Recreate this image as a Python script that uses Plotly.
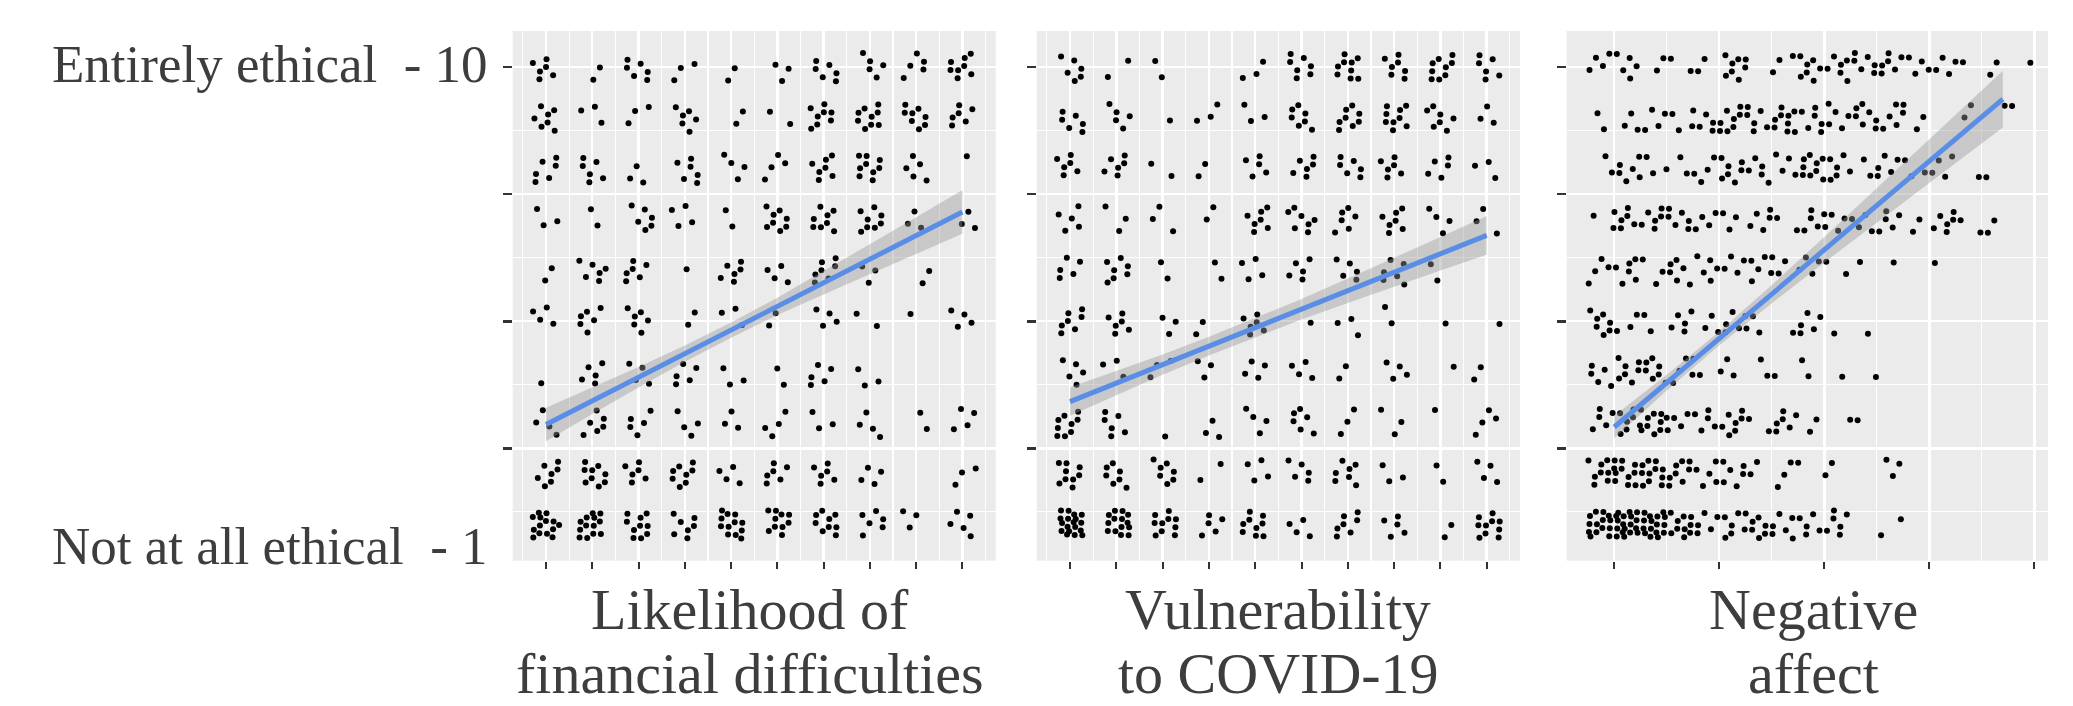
import numpy as np
import plotly.graph_objects as go

# ---------------- data ----------------
LEVELS = [10, 9, 8, 7, 6, 5, 4, 3, 2, 1]          # ethicality rating (rows)
SCALE10_X = [1, 2, 3, 4, 5, 6, 7, 8, 9, 10]        # 10-point predictor scale

# counts of respondents per (rating row, predictor value)
FIN_COUNTS = [
    [6, 2, 6, 3, 2, 3, 6, 5, 5, 8],
    [7, 3, 3, 6, 2, 2, 8, 9, 8, 6],
    [6, 6, 3, 6, 4, 4, 7, 9, 5, 1],
    [3, 2, 6, 4, 2, 8, 8, 8, 3, 3],
    [2, 6, 6, 1, 6, 4, 7, 3, 2, 0],
    [4, 6, 6, 2, 3, 2, 4, 2, 1, 4],
    [1, 5, 4, 5, 3, 2, 5, 3, 0, 0],
    [4, 6, 5, 4, 3, 4, 3, 4, 2, 4],
    [7, 9, 6, 8, 4, 6, 6, 4, 0, 3],
    [14, 13, 10, 7, 12, 10, 9, 6, 3, 5],
]
COV_COUNTS = [
    [6, 2, 2, 0, 3, 7, 9, 7, 9, 6],
    [6, 5, 1, 3, 3, 7, 8, 9, 7, 3],
    [6, 6, 2, 2, 5, 6, 6, 6, 5, 3],
    [5, 3, 3, 2, 7, 7, 6, 7, 4, 3],
    [5, 7, 2, 2, 4, 5, 5, 6, 2, 0],
    [7, 6, 3, 2, 6, 1, 3, 2, 1, 1],
    [5, 3, 3, 3, 4, 4, 2, 4, 1, 2],
    [9, 6, 1, 3, 4, 6, 3, 3, 1, 4],
    [9, 7, 7, 2, 4, 5, 7, 3, 2, 4],
    [18, 14, 10, 5, 9, 4, 7, 5, 2, 10],
]
# negative affect: counts per 0.25-wide bin (bin centres below)
NEG_BIN_CENTERS = [0.875, 1.125, 1.375, 1.625, 1.875, 2.125, 2.375, 2.625, 2.875,
                   3.125, 3.375, 3.625, 3.875, 4.125, 4.375, 4.625, 4.875]
NEG_BIN_WIDTH = 0.25
NEG_COUNTS = [
    [4, 5, 2, 2, 2, 7, 1, 3, 7, 6, 6, 6, 4, 4, 1, 2, 1],
    [2, 3, 4, 3, 5, 8, 6, 9, 6, 5, 7, 5, 3, 0, 2, 1, 1],
    [2, 6, 3, 2, 4, 7, 5, 4, 9, 6, 2, 5, 3, 4, 1, 1, 0],
    [2, 6, 6, 6, 4, 3, 5, 2, 5, 4, 4, 5, 2, 6, 2, 2, 0],
    [4, 6, 3, 6, 5, 4, 5, 3, 4, 2, 1, 1, 0, 1, 0, 0, 0],
    [7, 3, 2, 5, 3, 5, 3, 1, 5, 1, 1, 0, 0, 0, 0, 0, 0],
    [5, 7, 7, 4, 2, 3, 2, 1, 2, 1, 1, 0, 0, 0, 0, 0, 0],
    [5, 7, 10, 4, 5, 7, 2, 6, 2, 1, 1, 0, 0, 0, 0, 0, 0],
    [9, 10, 11, 8, 5, 6, 2, 3, 1, 2, 0, 3, 0, 0, 0, 0, 0],
    [14, 18, 16, 10, 5, 6, 7, 6, 5, 6, 0, 2, 0, 0, 0, 0, 0],
]

# linear fits and confidence-band half widths
FIN_FIT_X = [1, 10]
FIN_FIT_Y = [2.97, 7.15]
FIN_CI_X = [1, 2, 3, 4, 5, 6, 7, 8, 9, 10]
FIN_CI_HALF = [0.33, 0.26, 0.20, 0.16, 0.15, 0.17, 0.23, 0.29, 0.36, 0.43]

COV_FIT_X = [1, 10]
COV_FIT_Y = [3.42, 6.69]
COV_CI_X = [1, 2, 3, 4, 5, 6, 7, 8, 9, 10]
COV_CI_HALF = [0.28, 0.24, 0.20, 0.185, 0.185, 0.20, 0.24, 0.28, 0.33, 0.38]

NEG_FIT_X = [1, 4.7]
NEG_FIT_Y = [2.92, 9.37]
NEG_CI_X = [1, 1.5, 2, 2.5, 3, 3.5, 4, 4.5, 4.7]
NEG_CI_HALF = [0.22, 0.155, 0.135, 0.18, 0.25, 0.34, 0.43, 0.52, 0.56]

# axes breaks and text
Y_MAJOR = [2.5, 5, 7.5, 10]
Y_MINOR = [1.25, 3.75, 6.25, 8.75]
X10_MAJOR = [1, 2, 3, 4, 5, 6, 7, 8, 9, 10]
X10_MINOR = [0.5, 1.5, 2.5, 3.5, 4.5, 5.5, 6.5, 7.5, 8.5, 9.5, 10.5]
X5_MAJOR = [1, 2, 3, 4, 5]
X5_MINOR = [1.5, 2.5, 3.5, 4.5]
Y_LABEL_TOP = "Entirely ethical \u00a0- 10"
Y_LABEL_BOTTOM = "Not at all ethical \u00a0- 1"
TITLES = [["Likelihood of", "financial difficulties"],
          ["Vulnerability", "to COVID-19"],
          ["Negative", "affect"]]

# ---------------- helpers ----------------
W, H = 2073, 706
A1, A2 = 0.7548776662466927, 0.5698402909980532  # R2 low-discrepancy sequence


def spread(n, seed):
    k = np.arange(n) + seed
    u = (0.5 + k * A1) % 1.0 - 0.5
    v = (0.5 + k * A2) % 1.0 - 0.5
    return u, v


def grid_points(counts, xs, xw, yh, pid):
    px, py = [], []
    for r, row in enumerate(counts):
        for c, n in enumerate(row):
            if n <= 0:
                continue
            u, v = spread(n, 11 * r + 7 * c + 31 * pid)
            px.extend(xs[c] + u * xw)
            py.extend(LEVELS[r] + v * yh)
    return px, py


FONT = "Liberation Serif, Times New Roman, serif"
TXT = "#3d3d3d"
BLUE = "#5A8EE6"
BAND = "rgba(153,153,153,0.42)"

fig = go.Figure()

panels = [
    dict(counts=FIN_COUNTS, xs=SCALE10_X, xw=0.58, fx=FIN_FIT_X, fy=FIN_FIT_Y,
         cx=FIN_CI_X, ch=FIN_CI_HALF),
    dict(counts=COV_COUNTS, xs=SCALE10_X, xw=0.58, fx=COV_FIT_X, fy=COV_FIT_Y,
         cx=COV_CI_X, ch=COV_CI_HALF),
    dict(counts=NEG_COUNTS, xs=NEG_BIN_CENTERS, xw=NEG_BIN_WIDTH, fx=NEG_FIT_X,
         fy=NEG_FIT_Y, cx=NEG_CI_X, ch=NEG_CI_HALF),
]

for i, p in enumerate(panels):
    xa = "x" if i == 0 else f"x{i+1}"
    ya = "y" if i == 0 else f"y{i+1}"
    px, py = grid_points(p["counts"], p["xs"], p["xw"], 0.56, i)
    fig.add_trace(go.Scatter(x=px, y=py, mode="markers", xaxis=xa, yaxis=ya,
                             marker=dict(color="black", size=6, line=dict(width=0)),
                             showlegend=False, hoverinfo="skip"))
    cx = np.array(p["cx"], dtype=float)
    mid = np.interp(cx, p["fx"], p["fy"])
    hi = mid + np.array(p["ch"])
    lo = mid - np.array(p["ch"])
    fig.add_trace(go.Scatter(x=list(cx) + list(cx[::-1]), y=list(hi) + list(lo[::-1]),
                             fill="toself", fillcolor=BAND, line=dict(width=0),
                             mode="lines", xaxis=xa, yaxis=ya, showlegend=False,
                             hoverinfo="skip"))
    fig.add_trace(go.Scatter(x=p["fx"], y=p["fy"], mode="lines", xaxis=xa, yaxis=ya,
                             line=dict(color=BLUE, width=5), showlegend=False,
                             hoverinfo="skip"))

# ---------------- layout ----------------
top_px, bot_px = 31, 560.7
ydom = [1 - bot_px / H, 1 - top_px / H]
xdoms = [[512.7 / W, 995.7 / W], [1036.7 / W, 1520 / W], [1566.7 / W, 2048 / W]]
xranges = [[0.28, 10.72], [0.28, 10.72], [0.547, 5.13]]
xmaj = [X10_MAJOR, X10_MAJOR, X5_MAJOR]
xmin = [X10_MINOR, X10_MINOR, X5_MINOR]

layout = dict(width=W, height=H, margin=dict(l=0, r=0, t=0, b=0),
              paper_bgcolor="white", plot_bgcolor="#EBEBEB", showlegend=False)

for i in range(3):
    xk = "xaxis" if i == 0 else f"xaxis{i+1}"
    yk = "yaxis" if i == 0 else f"yaxis{i+1}"
    layout[xk] = dict(domain=xdoms[i], range=xranges[i],
                      anchor="y" if i == 0 else f"y{i+1}",
                      tickmode="array", tickvals=xmaj[i], showticklabels=False,
                      ticks="outside", ticklen=7, tickwidth=2, tickcolor="#333333",
                      showgrid=True, gridcolor="white", gridwidth=2.4,
                      zeroline=False, showline=False, fixedrange=True,
                      minor=dict(tickmode="array", tickvals=xmin[i], showgrid=True,
                                 gridcolor="white", gridwidth=1.2, ticks=""))
    layout[yk] = dict(domain=ydom, range=[0.29, 10.71],
                      anchor="x" if i == 0 else f"x{i+1}",
                      tickmode="array", tickvals=Y_MAJOR, showticklabels=False,
                      ticks="outside", ticklen=9, tickwidth=2.5, tickcolor="#333333",
                      showgrid=True, gridcolor="white", gridwidth=2.4,
                      zeroline=False, showline=False, fixedrange=True,
                      minor=dict(tickmode="array", tickvals=Y_MINOR, showgrid=True,
                                 gridcolor="white", gridwidth=1.2, ticks=""))

ann = []
ann.append(dict(text=Y_LABEL_TOP, xref="paper", yref="paper", x=490 / W, y=1 - 64.5 / H,
                xanchor="right", yanchor="middle", showarrow=False,
                font=dict(family=FONT, size=53, color=TXT)))
ann.append(dict(text=Y_LABEL_BOTTOM, xref="paper", yref="paper", x=490 / W, y=1 - 545.5 / H,
                xanchor="right", yanchor="middle", showarrow=False,
                font=dict(family=FONT, size=53, color=TXT)))
centers = [750, 1278, 1813]
for c, (l1, l2) in zip(centers, TITLES):
    ann.append(dict(text=l1, xref="paper", yref="paper", x=c / W, y=1 - 609 / H,
                    xanchor="center", yanchor="middle", showarrow=False,
                    font=dict(family=FONT, size=58, color=TXT)))
    ann.append(dict(text=l2, xref="paper", yref="paper", x=c / W, y=1 - 673 / H,
                    xanchor="center", yanchor="middle", showarrow=False,
                    font=dict(family=FONT, size=58, color=TXT)))
layout["annotations"] = ann

fig.update_layout(**layout)
fig.write_html("out.html",
               config={"displayModeBar": False, "staticPlot": True},
               post_script="document.body.style.margin='0';"
                           "document.body.style.overflow='hidden';")
